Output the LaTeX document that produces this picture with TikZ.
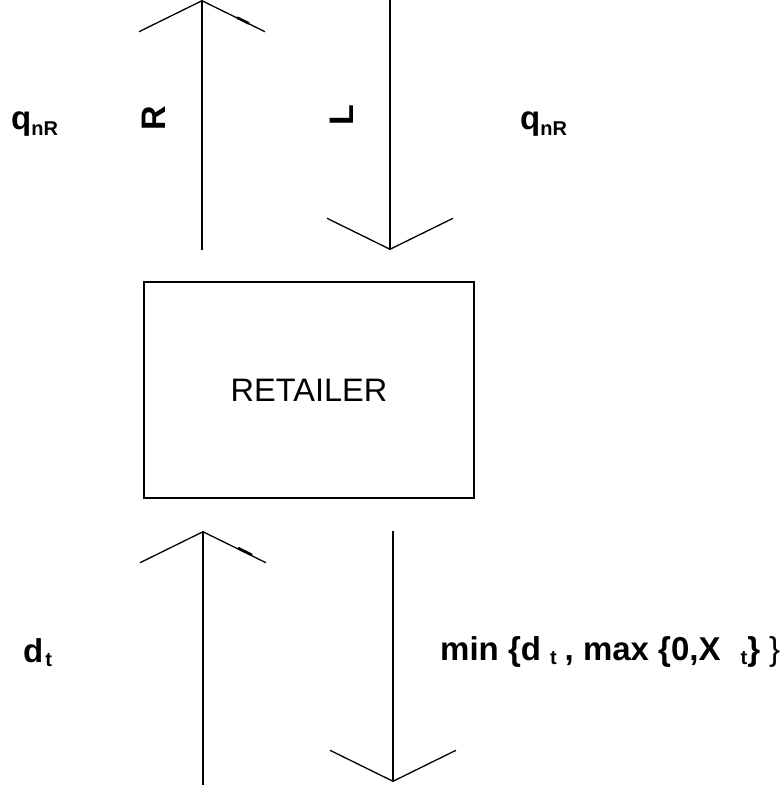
\documentclass[tikz,border=0pt]{standalone}
\usepackage{fontspec}
\setmainfont{Liberation Sans}
\usetikzlibrary{arrows.meta}
\newcommand{\lowsub}[2][5pt]{\raisebox{-#1}{\fontsize{20}{22}\selectfont #2}}
\begin{document}
\begin{tikzpicture}[x=1pt,y=-1pt,
  flow/.style={line width=1.3pt, -{Straight Barb[length=31pt,width=126pt]}},
  wingmark/.style={line width=2.6pt},
  lbl/.style={font=\fontsize{33}{38}\selectfont\bfseries, inner sep=0pt},
  rlbl/.style={font=\fontsize{34}{38}\selectfont\bfseries, inner sep=0pt, rotate=90},
  agent/.style={draw, line width=1.7pt, minimum width=330pt, minimum height=216pt,
    font=\fontsize{32.5}{36}\selectfont, inner sep=0pt}]
\useasboundingbox (0,0) rectangle (780,792);

% retailer box
\node[agent] (ret) at (309,390) {RETAILER};

% arrow end points
\coordinate (upA0) at (202,250);
\coordinate (upA1) at (202,0);
\coordinate (dnA0) at (390,0);
\coordinate (dnA1) at (390,250);
\coordinate (upB0) at (203,785);
\coordinate (upB1) at (203,531);
\coordinate (dnB0) at (393,531);
\coordinate (dnB1) at (393,782);

% flows above the retailer
\draw[flow] (upA0) -- (upA1);
\draw[flow] (dnA0) -- (dnA1);
\draw[wingmark] (237,17.5) -- (249,23.5);

% flows below the retailer
\draw[flow] (upB0) -- (upB1);
\draw[flow] (dnB0) -- (dnB1);
\draw[wingmark] (238,548) -- (252,555);

% labels
\node[lbl, anchor=base west] (qleft) at (11,129) {q\lowsub[6pt]{nR}};
\node[lbl, anchor=base west] (qright) at (520,129) {q\lowsub[6pt]{nR}};
\node[rlbl] (rlab) at (154,118) {R};
\node[rlbl] (llab) at (342,115) {L};
\node[lbl, anchor=base west] (dlab) at (23,662) {d\hspace{2pt}\lowsub[4pt]{t}};
\node[lbl, anchor=base west] (minlab) at (440,660)
  {min \{d\hspace{9pt}\lowsub[4pt]{t}\hspace{8pt}, max \{0,X\hspace{20pt}\lowsub[4pt]{t}\}\hspace{9pt}{\mdseries\}}};
\end{tikzpicture}
\end{document}
